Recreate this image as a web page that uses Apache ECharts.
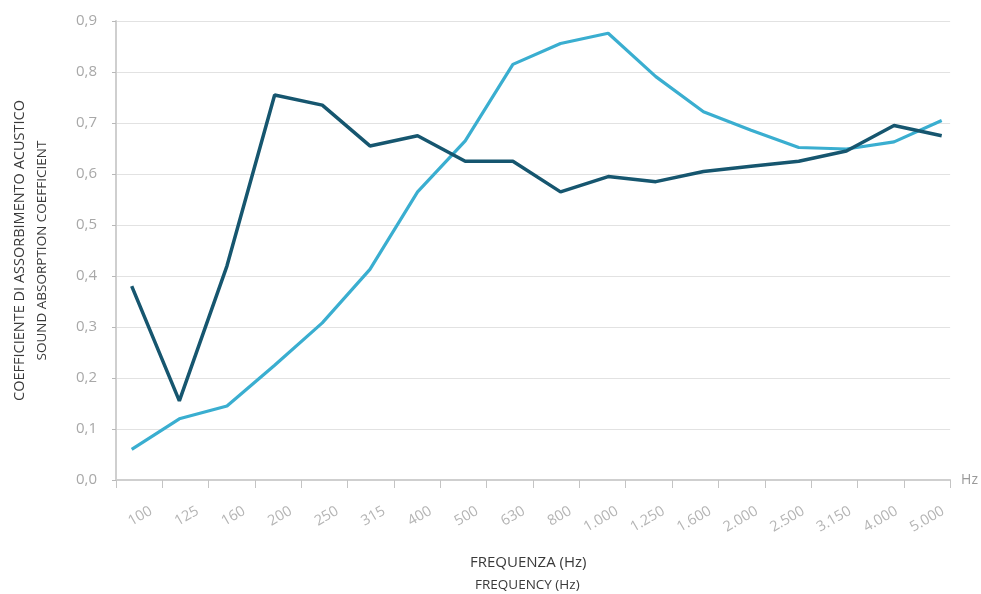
<!DOCTYPE html>
<html>
<head>
<meta charset="utf-8">
<script src="https://cdn.jsdelivr.net/npm/echarts@6/dist/echarts.min.js"></script>
<style>html,body{margin:0;padding:0;background:#fff}#c{width:981px;height:594px}</style>
</head>
<body>
<div id="c"></div>
<script>
var categories = ['100','125','160','200','250','315','400','500','630','800','1.000','1.250','1.600','2.000','2.500','3.150','4.000','5.000'];
var darkSeries = [0.38,0.155,0.42,0.755,0.735,0.655,0.675,0.625,0.625,0.565,0.595,0.585,0.605,0.615,0.625,0.645,0.695,0.675];
var lightSeries = [0.06,0.12,0.145,0.225,0.308,0.413,0.565,0.665,0.815,0.856,0.876,0.791,0.722,0.686,0.652,0.649,0.663,0.705];
var yTicks = [0,0.1,0.2,0.3,0.4,0.5,0.6,0.7,0.8,0.9];

var font = 'Open Sans';
var chart = echarts.init(document.getElementById('c'));
chart.setOption({
  animation: false,
  textStyle: {fontFamily: font},
  grid: [
    {left: 116, right: 29, top: 21, bottom: 114},
    {left: 131.7, right: 39.3, top: 21, bottom: 114},
    {left: 127.7, right: 14.5, top: 21, bottom: 114}
  ],
  xAxis: [
    {
      gridIndex: 0, type: 'category', data: categories, boundaryGap: true,
      name: 'Hz', nameLocation: 'end', nameGap: 11,
      nameTextStyle: {color: '#9a9a9a', fontSize: 14, fontFamily: font},
      axisLine: {lineStyle: {color: '#cfcfcf', width: 2}},
      axisTick: {show: true, length: 8, lineStyle: {color: '#c4c4c4', width: 1}},
      axisLabel: {show: false}
    },
    {
      gridIndex: 1, type: 'category', data: categories, boundaryGap: false,
      axisLine: {show: false}, axisTick: {show: false}, axisLabel: {show: false}
    },
    {
      gridIndex: 2, type: 'category', data: categories, boundaryGap: true,
      axisLine: {show: false}, axisTick: {show: false},
      axisLabel: {show: true, rotate: 30, margin: 30, color: '#b4b4b4', fontSize: 14.5, fontFamily: font, interval: 0}
    }
  ],
  yAxis: [
    {
      gridIndex: 0, type: 'value', min: 0, max: 0.9, interval: 0.1,
      name: '{a|COEFFICIENTE DI ASSORBIMENTO ACUSTICO}\n{b|SOUND ABSORPTION COEFFICIENT}',
      nameLocation: 'middle', nameRotate: 90, nameGap: 63,
      nameTextStyle: {
        rich: {
          a: {fontSize: 14.5, color: '#3a3a3a', fontFamily: font, lineHeight: 22, align: 'center'},
          b: {fontSize: 13.5, color: '#3a3a3a', fontFamily: font, lineHeight: 22, align: 'center'}
        }
      },
      axisLine: {show: true, lineStyle: {color: '#cfcfcf', width: 2}},
      axisTick: {show: true, length: 4, lineStyle: {color: '#b8b8b8'}},
      axisLabel: {
        margin: 19, color: '#a8a8a8', fontSize: 15, fontFamily: font,
        formatter: function (v) {
          var idx = yTicks.indexOf(Math.round(v * 10) / 10);
          return (idx >= 0 ? yTicks[idx] : v).toFixed(1).replace('.', ',');
        }
      },
      splitLine: {show: true, lineStyle: {color: '#e2e2e2', width: 1}}
    },
    {gridIndex: 1, type: 'value', min: 0, max: 0.9, show: false, splitLine: {show: false}},
    {gridIndex: 2, type: 'value', min: 0, max: 0.9, show: false, splitLine: {show: false}}
  ],
  series: [
    {
      name: 'B', type: 'line', xAxisIndex: 1, yAxisIndex: 1, data: lightSeries,
      symbol: 'none', lineStyle: {color: '#3aaed0', width: 3.2}, z: 2
    },
    {
      name: 'A', type: 'line', xAxisIndex: 1, yAxisIndex: 1, data: darkSeries,
      symbol: 'none', lineStyle: {color: '#16566f', width: 3.5}, z: 3
    }
  ],
  graphic: [
    {type: 'text', left: 470, top: 555, style: {text: 'FREQUENZA (Hz)', fill: '#3a3a3a', font: '15px "Open Sans"'}},
    {type: 'text', left: 475, top: 578, style: {text: 'FREQUENCY (Hz)', fill: '#3a3a3a', font: '13.5px "Open Sans"'}}
  ]
});
</script>
</body>
</html>
